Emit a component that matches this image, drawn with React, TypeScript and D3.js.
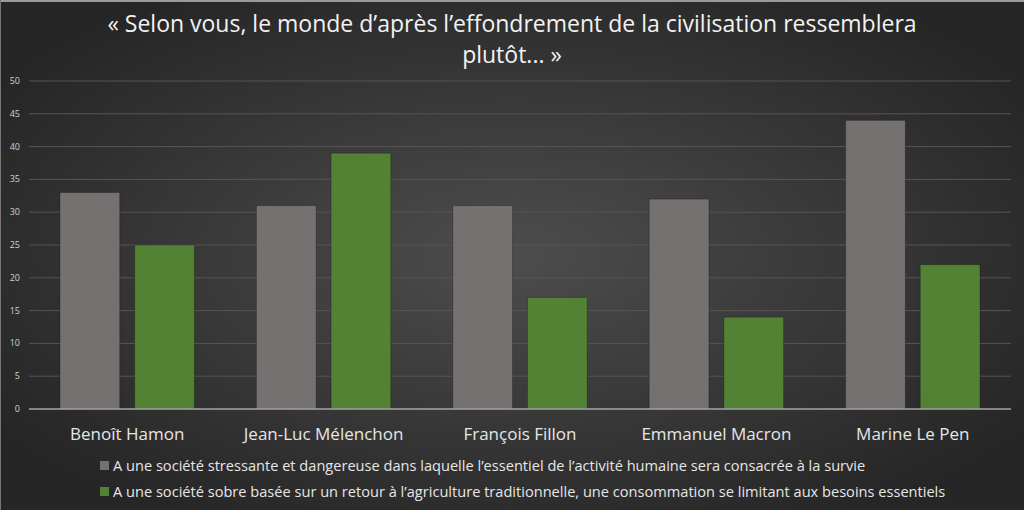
import { useEffect, useRef } from "react";
import * as d3 from "d3";

const candidates = ["Benoît Hamon", "Jean-Luc Mélenchon", "François Fillon", "Emmanuel Macron", "Marine Le Pen"];
const stressante = [33, 31, 31, 32, 44];
const sobre = [25, 39, 17, 14, 22];
const seriesNames = [
  "A une société stressante et dangereuse dans laquelle l’essentiel de l’activité humaine sera consacrée à la survie",
  "A une société sobre basée sur un retour à l’agriculture traditionnelle, une consommation se limitant aux besoins essentiels",
];
const seriesColors = ["#767171", "#548235"];
const yTicks = [0, 5, 10, 15, 20, 25, 30, 35, 40, 45, 50];
const titleLines = ["« Selon vous, le monde d’après l’effondrement de la civilisation ressemblera", "plutôt... »"];

export default function App() {
  const svgRef = useRef<SVGSVGElement>(null);

  useEffect(() => {
    if (!svgRef.current) return;
    const svg = d3.select(svgRef.current);
    svg.selectAll("*").remove();

    const W = 1024, H = 510;
    const margin = { top: 81, right: 13, bottom: 101, left: 29 };
    const width = W - margin.left - margin.right;
    const height = H - margin.top - margin.bottom;
    const font = "'Open Sans', sans-serif";

    const defs = svg.append("defs");
    const grad = defs.append("radialGradient").attr("id", "bg").attr("cx", "50%").attr("cy", "50%").attr("r", "60%");
    grad.append("stop").attr("offset", "0%").attr("stop-color", "#4d4d4d");
    grad.append("stop").attr("offset", "100%").attr("stop-color", "#262626");

    svg.append("rect").attr("width", W).attr("height", H).attr("fill", "url(#bg)");
    svg.append("line").attr("x1", 0).attr("x2", W).attr("y1", 1).attr("y2", 1).attr("stroke", "#9a9a9a").attr("stroke-width", 2);
    svg.append("line").attr("x1", 0.5).attr("x2", 0.5).attr("y1", 0).attr("y2", H).attr("stroke", "#777");

    // Title
    svg.append("text")
      .attr("x", W / 2).attr("y", 32)
      .attr("text-anchor", "middle").attr("font-family", font).attr("font-size", "23px").attr("fill", "#f2f2f2")
      .selectAll("tspan").data(titleLines).enter().append("tspan")
      .attr("x", W / 2).attr("dy", (_, i) => (i === 0 ? 0 : 31))
      .text((d) => d);

    const g = svg.append("g").attr("transform", `translate(${margin.left},${margin.top})`);

    const x0 = d3.scaleBand().domain(candidates).range([0, width]).paddingInner(0).paddingOuter(0);
    const x1 = d3.scaleBand().domain(["0", "1"]).range([31, x0.bandwidth() - 31]).paddingInner(0.2);
    const y = d3.scaleLinear().domain([0, 50]).range([height, 0]);

    // Grid
    g.selectAll(".grid").data(yTicks.filter((t) => t > 0)).enter()
      .append("line").attr("x1", 0).attr("x2", width)
      .attr("y1", (d) => y(d)).attr("y2", (d) => y(d))
      .attr("stroke", "#555").attr("stroke-width", 1);

    // Bars
    const rows = candidates.map((c, i) => ({ c, vals: [stressante[i], sobre[i]] }));
    const groups = g.selectAll(".grp").data(rows).enter().append("g")
      .attr("transform", (d) => `translate(${x0(d.c)},0)`);
    groups.selectAll("rect").data((d) => d.vals.map((v, k) => ({ v, k }))).enter()
      .append("rect")
      .attr("x", (d) => x1(String(d.k))!)
      .attr("y", (d) => y(d.v))
      .attr("width", x1.bandwidth())
      .attr("height", (d) => height - y(d.v))
      .attr("fill", (d) => seriesColors[d.k])
      .attr("stroke", "rgba(0,0,0,0.25)").attr("stroke-width", 1);

    // Baseline
    g.append("line").attr("x1", 0).attr("x2", width).attr("y1", height).attr("y2", height)
      .attr("stroke", "#a6a6a6").attr("stroke-width", 1.5);

    // Y ticks
    g.selectAll(".ytick").data(yTicks).enter().append("text")
      .attr("x", -9).attr("y", (d) => y(d) + 3)
      .attr("text-anchor", "end").attr("font-family", font).attr("font-size", "9px").attr("fill", "#d0d0d0")
      .text((d) => d);

    // Category labels
    g.selectAll(".cat").data(candidates).enter().append("text")
      .attr("x", (d) => x0(d)! + x0.bandwidth() / 2).attr("y", height + 31)
      .attr("text-anchor", "middle").attr("font-family", font).attr("font-size", "17px").attr("fill", "#e6e6e6")
      .text((d) => d);

    // Legend
    const leg = svg.selectAll(".leg").data(seriesNames).enter().append("g")
      .attr("transform", (_, i) => `translate(100,${466 + i * 26})`);
    leg.append("rect").attr("x", 0).attr("y", -5).attr("width", 9).attr("height", 9)
      .attr("fill", (_, i) => seriesColors[i]);
    leg.append("text").attr("x", 13).attr("y", 5)
      .attr("font-family", font).attr("font-size", "14.6px").attr("fill", "#e6e6e6")
      .text((d) => d);
  }, []);

  return (
    <svg
      ref={svgRef}
      width={1024}
      height={510}
      style={{ display: "block", position: "absolute", left: 0, top: 0 }}
    />
  );
}
